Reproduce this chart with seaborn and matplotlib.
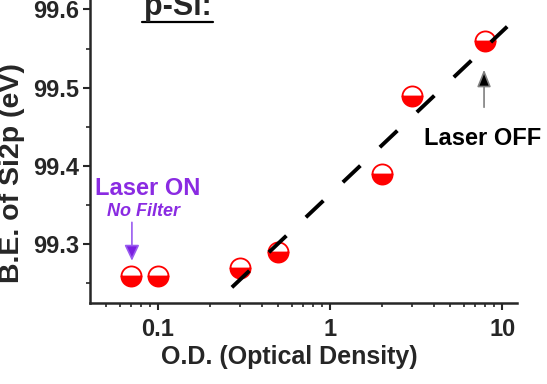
import matplotlib
matplotlib.use("Agg")
import matplotlib.pyplot as plt
import seaborn as sns
import pandas as pd
from matplotlib.ticker import MultipleLocator, LogLocator, NullFormatter, FixedLocator

# measured points
od = [0.07, 0.1, 0.3, 0.5, 2, 3, 8]
be = [99.26, 99.26, 99.27, 99.29, 99.39, 99.49, 99.56]

# dashed guide line (ends)
fit_od = [0.269, 10.7]
fit_be = [99.245, 99.578]

x_ticks = [0.1, 1, 10]
x_tick_labels = ["0.1", "1", "10"]
y_ticks = [99.3, 99.4, 99.5, 99.6]

PURPLE = "#8a2be2"

sns.set_style("ticks")
plt.rcParams["font.family"] = ["Liberation Sans", "DejaVu Sans"]
plt.rcParams["font.weight"] = "bold"

fig = plt.figure(figsize=(5.47, 3.84), dpi=100)
ax = fig.add_axes([90 / 547, 1 - 303 / 384, 427 / 547, 303 / 384])

df = pd.DataFrame({"od": od, "be": be})
sns.lineplot(data=df, x="od", y="be", ax=ax, estimator=None, sort=False,
             linestyle="none", marker="o", markersize=14.5, color="red",
             fillstyle="bottom", markerfacecoloralt="white",
             markeredgecolor="red", markeredgewidth=1.3, zorder=3)

fit = pd.DataFrame({"od": fit_od, "be": fit_be})
sns.lineplot(data=fit, x="od", y="be", ax=ax, estimator=None, sort=False,
             color="black", linewidth=2.8, dashes=False, zorder=4)
ax.lines[-1].set_dashes((6.2, 6.9))
ax.lines[-1].set_dash_capstyle("butt")

ax.set_xscale("log")
ax.set_xlim(0.0403, 12.2)
ax.set_ylim(99.225, 99.612)

ax.xaxis.set_major_locator(FixedLocator(x_ticks))
ax.set_xticklabels(x_tick_labels)
ax.xaxis.set_minor_locator(LogLocator(base=10, subs=range(2, 10)))
ax.xaxis.set_minor_formatter(NullFormatter())
ax.set_yticks(y_ticks)
ax.set_yticklabels([f"{v:.1f}" for v in y_ticks])
ax.yaxis.set_minor_locator(MultipleLocator(0.05))

ax.tick_params(which="major", length=5, width=1.5, labelsize=17, pad=3)
ax.tick_params(axis="x", which="major", pad=6)
ax.tick_params(which="minor", length=3, width=1.2)
for lbl in ax.get_xticklabels() + ax.get_yticklabels():
    lbl.set_fontweight("bold")

sns.despine(ax=ax)
for s in ["left", "bottom"]:
    ax.spines[s].set_linewidth(1.8)

ax.set_xlabel("O.D. (Optical Density)", fontsize=18, fontweight="bold")
ax.xaxis.set_label_coords(0.466, -0.14)
ax.set_ylabel("B.E. of Si2p (eV)", fontsize=20.5, fontweight="bold")
ax.yaxis.set_label_coords(-0.152, 0.43)

# title, underlined
fig.text(178 / 547, 1 - 15 / 384, "p-Si:", ha="center", va="baseline",
         fontsize=22, fontweight="bold")
fig.add_artist(plt.Line2D([142 / 547, 213 / 547], [1 - 22 / 384, 1 - 22 / 384],
                          color="black", linewidth=1.6))

# annotations
ax.text(0.0875, 99.3715, "Laser ON", color=PURPLE, fontsize=17,
        fontweight="bold", ha="center", va="center")
ax.text(0.0824, 99.342, "No Filter", color=PURPLE, fontsize=13,
        fontweight="bold", fontstyle="italic", ha="center", va="center")
ax.annotate("", xy=(0.0706, 99.279), xytext=(0.0706, 99.328),
            arrowprops=dict(arrowstyle="-|>,head_length=0.95,head_width=0.45",
                            fc="#7a1fe0", ec="#9a5cf0", lw=1.2,
                            shrinkA=0, shrinkB=0))

ax.text(7.75, 99.435, "Laser OFF", color="black", fontsize=17,
        fontweight="bold", ha="center", va="center")
ax.annotate("", xy=(7.85, 99.523), xytext=(7.85, 99.475),
            arrowprops=dict(arrowstyle="-|>,head_length=1.05,head_width=0.42",
                            fc="black", ec="gray", lw=1.2,
                            shrinkA=0, shrinkB=0))

fig.savefig("out.png", dpi=100)
